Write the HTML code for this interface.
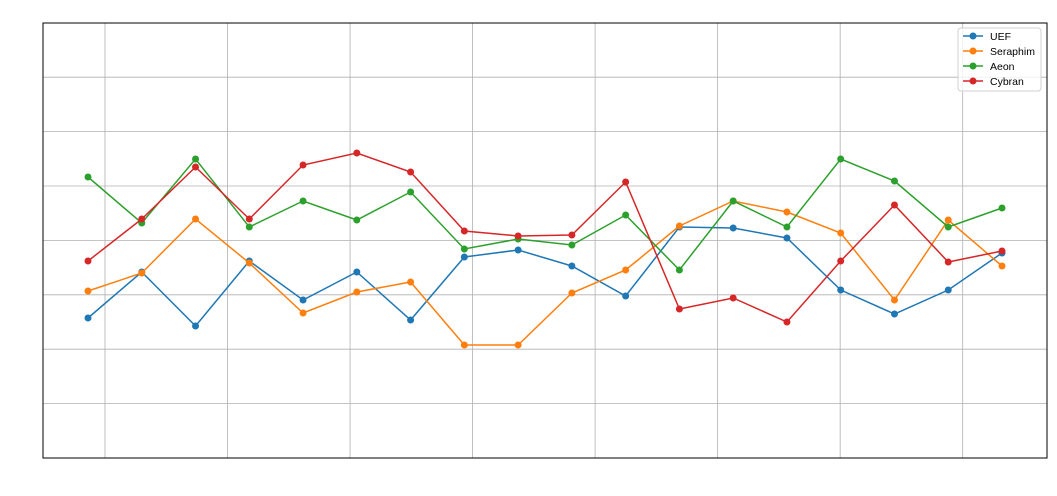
<!DOCTYPE html>
<html><head><meta charset="utf-8"><style>
html,body{margin:0;padding:0;background:#fff;}
svg{display:block;font-family:"Liberation Sans","DejaVu Sans",sans-serif;}
</style></head><body>
<svg id="chart" width="1057" height="496" viewBox="0 0 1057 496"></svg>
<script>
const categories = [0,1,2,3,4,5,6,7,8,9,10,11,12,13,14,15,16,17];
const seriesNames = ["UEF","Seraphim","Aeon","Cybran"];
const uefValues = [140,186,132,197,158,186,138,201,208,192,162,231,230,220,168,144,168,205];
const seraphimValues = [167,185,239,195,145,166,176,113,113,165,188,232,257,246,225,158,238,192];
const aeonValues = [281,235,299,231,257,238,266,209,219,213,243,188,257,231,299,277,231,250];
const cybranValues = [197,239,291,239,293,305,286,227,222,223,276,149,160,136,197,253,196,207];
const yTicks = [54.4,108.8,163.2,217.6,272,326.4,380.8];
const xTicks = [0.316,2.595,4.874,7.153,9.432,11.711,13.99,16.269];
const colors = ["#1f77b4","#ff7f0e","#2ca02c","#d62728"];
const allSeries = [uefValues, seraphimValues, aeonValues, cybranValues];

const L=43,R=1047,T=23,B=458;
const xScale = i => 88 + i*(1002-88)/17;
const yScale = v => B - v*(B-T)/435;
const svg = document.getElementById('chart');
const NS = "http://www.w3.org/2000/svg";
function mk(tag, attrs){const e=document.createElementNS(NS,tag);for(const k in attrs)e.setAttribute(k,attrs[k]);svg.appendChild(e);return e;}

yTicks.forEach(v=>{const y=yScale(v);
  const g=mk('line',{x1:L,x2:R,y1:y,y2:y,stroke:'#b0b0b0','stroke-width':0.8});
  
  });
xTicks.forEach(v=>{const x=xScale(v);
  const g=mk('line',{x1:x,x2:x,y1:T,y2:B,stroke:'#b0b0b0','stroke-width':0.8});
  
  });

allSeries.forEach((vals,si)=>{
  const pts = vals.map((v,i)=>xScale(categories[i])+','+yScale(v)).join(' ');
  const pl = mk('polyline',{points:pts,fill:'none',stroke:colors[si],'stroke-width':1.5});
  
  
  vals.forEach((v,i)=>{
    const c=mk('circle',{cx:xScale(categories[i]),cy:yScale(v),r:3.5,fill:colors[si]});
    
    
  });
});

const frame = mk('rect',{x:L,y:T,width:R-L,height:B-T,fill:'none',stroke:'#000','stroke-width':1});



const lg = mk('rect',{x:958,y:28,width:83,height:63,rx:3,fill:'#fff','fill-opacity':0.8,stroke:'#d0d0d0'});


seriesNames.forEach((n,i)=>{
  const y=36+i*15;
  const l=mk('line',{x1:963,x2:983,y1:y,y2:y,stroke:colors[i],'stroke-width':1.5});
  
  
  const c=mk('circle',{cx:973,cy:y,r:3.5,fill:colors[i]});
  
  
  const t=mk('text',{x:990,y:y+4,'font-size':10.5,fill:'#000'});
  t.textContent=n;
  
  
});
</script>
</body></html>
